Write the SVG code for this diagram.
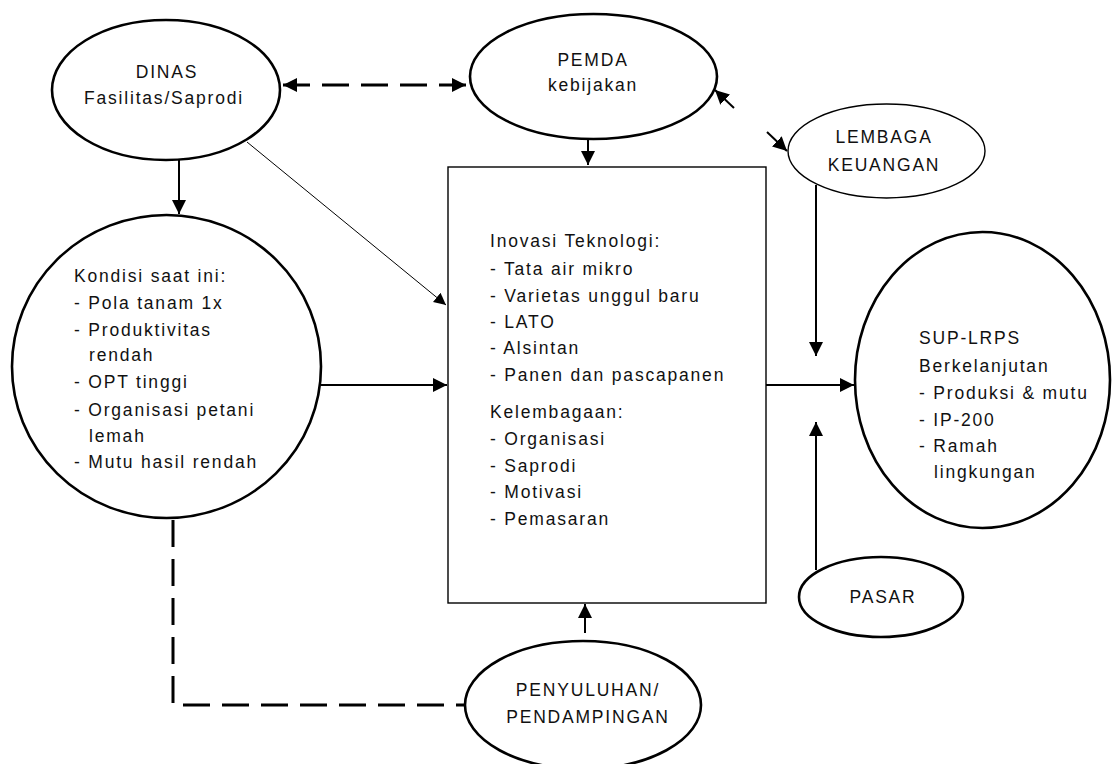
<svg xmlns="http://www.w3.org/2000/svg" width="1116" height="764" viewBox="0 0 1116 764">
<style>
.n{fill:#fff;stroke:#000;stroke-width:2.6}
.thin{stroke-width:1.4}
text{font-family:"Liberation Sans",Arial,sans-serif;font-size:17.5px;letter-spacing:1.8px;fill:#111}
.c{text-anchor:middle}
.ln{fill:none;stroke:#000;stroke-width:2}
.d{stroke-width:3;stroke-dasharray:27 12}
</style>
<defs>
<marker id="ah" viewBox="0 0 10 10" refX="10" refY="5" markerWidth="14" markerHeight="14" markerUnits="userSpaceOnUse" orient="auto-start-reverse">
<path d="M0,0L10,5L0,10z" fill="#000"/>
</marker>
<marker id="ahs" viewBox="0 0 10 10" refX="10" refY="5" markerWidth="12" markerHeight="12" markerUnits="userSpaceOnUse" orient="auto">
<path d="M0,0L10,5L0,10z" fill="#000"/>
</marker>
</defs>
<rect width="1116" height="764" fill="#fff"/>
<g id="connectors">
<line class="ln d" x1="283" y1="85" x2="466" y2="85" marker-start="url(#ah)" marker-end="url(#ah)"/>
<line class="ln" x1="179" y1="160" x2="179" y2="214" marker-end="url(#ah)"/>
<line x1="247" y1="142" x2="446" y2="305" stroke="#000" stroke-width="1" marker-end="url(#ahs)"/>
<line class="ln" x1="321" y1="385" x2="447" y2="385" marker-end="url(#ah)"/>
<line class="ln" x1="588" y1="139" x2="588" y2="165" marker-end="url(#ah)"/>
<line class="ln" x1="766" y1="385" x2="854" y2="385" marker-end="url(#ah)"/>
<line class="ln" x1="816" y1="185" x2="816" y2="356" marker-end="url(#ah)"/>
<line class="ln" x1="816" y1="570" x2="816" y2="422" marker-end="url(#ah)"/>
<line class="ln" x1="585" y1="633" x2="585" y2="604" marker-end="url(#ah)"/>
<line class="ln" x1="734" y1="108" x2="715" y2="90" marker-end="url(#ah)"/>
<line class="ln" x1="767" y1="132" x2="787" y2="151" marker-end="url(#ah)"/>
<polyline class="ln d" points="173,520 173,705 465,705"/>
</g>
<g id="dinas">
<ellipse class="n" cx="166" cy="90" rx="114" ry="70"/>
<text class="c" x="167" y="78">DINAS</text>
<text class="c" x="164" y="104">Fasilitas/Saprodi</text>
</g>
<g id="pemda">
<ellipse class="n" cx="593.5" cy="76.5" rx="123.5" ry="62.5"/>
<text class="c" x="593" y="66">PEMDA</text>
<text class="c" x="593" y="91">kebijakan</text>
</g>
<g id="lembaga">
<ellipse class="n thin" cx="886.5" cy="151" rx="98.5" ry="47"/>
<text class="c" x="884" y="143">LEMBAGA</text>
<text class="c" x="884" y="171">KEUANGAN</text>
</g>
<g id="kondisi">
<ellipse class="n" cx="166.5" cy="366.5" rx="154.5" ry="151.5"/>
<text x="74" y="282">Kondisi saat ini:</text>
<text x="74" y="309">- Pola tanam 1x</text>
<text x="74" y="336">- Produktivitas</text>
<text x="89" y="361">rendah</text>
<text x="74" y="388">- OPT tinggi</text>
<text x="74" y="416">- Organisasi petani</text>
<text x="89" y="442">lemah</text>
<text x="74" y="468">- Mutu hasil rendah</text>
</g>
<g id="inovasi">
<rect class="n thin" x="448" y="167" width="318" height="436"/>
<text x="490" y="247">Inovasi Teknologi:</text>
<text x="490" y="275">- Tata air mikro</text>
<text x="490" y="302">- Varietas unggul baru</text>
<text x="490" y="328">- LATO</text>
<text x="490" y="354">- Alsintan</text>
<text x="490" y="381">- Panen dan pascapanen</text>
<text x="490" y="418">Kelembagaan:</text>
<text x="490" y="445">- Organisasi</text>
<text x="490" y="472">- Saprodi</text>
<text x="490" y="498">- Motivasi</text>
<text x="490" y="525">- Pemasaran</text>
</g>
<g id="sup">
<ellipse class="n" cx="982.5" cy="380" rx="127.5" ry="148"/>
<text x="919" y="344">SUP-LRPS</text>
<text x="919" y="372">Berkelanjutan</text>
<text x="919" y="399">- Produksi &amp; mutu</text>
<text x="919" y="426">- IP-200</text>
<text x="919" y="452">- Ramah</text>
<text x="934" y="478">lingkungan</text>
</g>
<g id="pasar">
<ellipse class="n" cx="881" cy="597" rx="82" ry="40"/>
<text class="c" x="883" y="603">PASAR</text>
</g>
<g id="penyuluhan">
<ellipse class="n" cx="583" cy="705" rx="118" ry="64"/>
<text class="c" x="588" y="696">PENYULUHAN/</text>
<text class="c" x="588" y="723">PENDAMPINGAN</text>
</g>
</svg>
